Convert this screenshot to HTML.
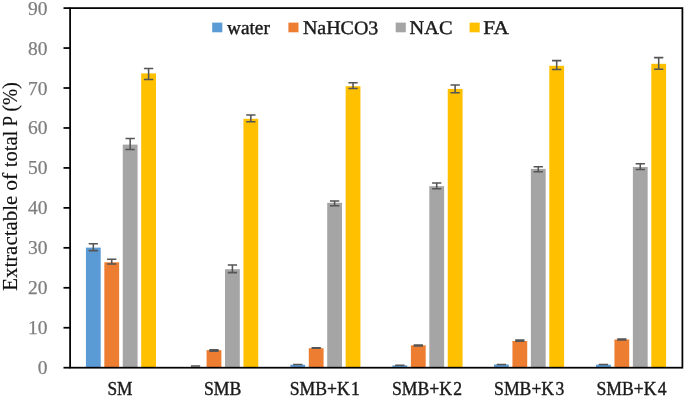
<!DOCTYPE html>
<html><head><meta charset="utf-8"><title>chart</title>
<style>
html,body{margin:0;padding:0;background:#fff;}
body{width:685px;height:397px;overflow:hidden;font-family:"Liberation Serif",serif;}
svg{display:block;}
text{font-family:"Liberation Serif",serif;}
#txt{will-change:transform;opacity:0.999;}
.d{stroke:#1a1a1a;stroke-width:0.4;}
.t{stroke:#7f7f7f;stroke-width:0.25;}
.y{stroke:#111;stroke-width:0.15;}
</style></head><body>
<svg width="685" height="397" viewBox="0 0 685 397">
<rect x="0" y="0" width="685" height="397" fill="#ffffff"/>
<g id="bars">
<rect x="85.91" y="247.60" width="14.8" height="120.10" fill="#5B9BD5"/>
<rect x="104.33" y="262.30" width="14.8" height="105.40" fill="#ED7D31"/>
<rect x="122.76" y="144.60" width="14.8" height="223.10" fill="#A5A5A5"/>
<rect x="141.19" y="73.40" width="14.8" height="294.30" fill="#FFC000"/>
<rect x="206.58" y="350.10" width="14.8" height="17.60" fill="#ED7D31"/>
<rect x="225.01" y="269.20" width="14.8" height="98.50" fill="#A5A5A5"/>
<rect x="243.44" y="118.80" width="14.8" height="248.90" fill="#FFC000"/>
<rect x="290.36" y="364.70" width="14.8" height="3.00" fill="#5B9BD5"/>
<rect x="308.79" y="348.20" width="14.8" height="19.50" fill="#ED7D31"/>
<rect x="327.21" y="202.80" width="14.8" height="164.90" fill="#A5A5A5"/>
<rect x="345.64" y="86.20" width="14.8" height="281.50" fill="#FFC000"/>
<rect x="392.46" y="365.40" width="14.8" height="2.30" fill="#5B9BD5"/>
<rect x="410.89" y="345.30" width="14.8" height="22.40" fill="#ED7D31"/>
<rect x="429.31" y="186.20" width="14.8" height="181.50" fill="#A5A5A5"/>
<rect x="447.75" y="88.90" width="14.8" height="278.80" fill="#FFC000"/>
<rect x="494.00" y="364.50" width="14.8" height="3.20" fill="#5B9BD5"/>
<rect x="512.43" y="341.00" width="14.8" height="26.70" fill="#ED7D31"/>
<rect x="530.87" y="168.90" width="14.8" height="198.80" fill="#A5A5A5"/>
<rect x="549.29" y="65.80" width="14.8" height="301.90" fill="#FFC000"/>
<rect x="596.00" y="364.70" width="14.8" height="3.00" fill="#5B9BD5"/>
<rect x="614.43" y="339.50" width="14.8" height="28.20" fill="#ED7D31"/>
<rect x="632.87" y="167.00" width="14.8" height="200.70" fill="#A5A5A5"/>
<rect x="651.29" y="63.80" width="14.8" height="303.90" fill="#FFC000"/>
</g>
<g id="err" stroke="#555555" stroke-width="1.55" fill="none">
<path d="M93.31 243.80V250.60M88.66 243.80H97.96M88.66 250.60H97.96"/>
<path d="M111.73 259.30V263.90M107.08 259.30H116.39M107.08 263.90H116.39"/>
<path d="M130.16 138.50V149.40M125.51 138.50H134.81M125.51 149.40H134.81"/>
<path d="M148.59 68.50V79.40M143.94 68.50H153.25M143.94 79.40H153.25"/>
<path d="M195.55 365.90V365.90M190.90 365.90H200.20M190.90 365.90H200.20"/>
<path d="M213.98 349.75V351.25M209.33 349.75H218.63M209.33 351.25H218.63"/>
<path d="M232.41 265.00V272.60M227.76 265.00H237.06M227.76 272.60H237.06"/>
<path d="M250.84 115.00V121.80M246.19 115.00H255.50M246.19 121.80H255.50"/>
<path d="M297.75 364.50V364.50M293.11 364.50H302.40M293.11 364.50H302.40"/>
<path d="M316.19 347.80V348.30M311.54 347.80H320.83M311.54 348.30H320.83"/>
<path d="M334.61 201.00V205.80M329.96 201.00H339.26M329.96 205.80H339.26"/>
<path d="M353.04 82.80V88.50M348.39 82.80H357.69M348.39 88.50H357.69"/>
<path d="M399.86 365.20V365.20M395.21 365.20H404.50M395.21 365.20H404.50"/>
<path d="M418.29 344.90V346.00M413.64 344.90H422.94M413.64 346.00H422.94"/>
<path d="M436.71 183.00V188.70M432.06 183.00H441.36M432.06 188.70H441.36"/>
<path d="M455.14 85.00V92.70M450.50 85.00H459.79M450.50 92.70H459.79"/>
<path d="M501.40 364.50V364.50M496.75 364.50H506.05M496.75 364.50H506.05"/>
<path d="M519.83 340.00V341.10M515.18 340.00H524.48M515.18 341.10H524.48"/>
<path d="M538.26 166.80V171.70M533.62 166.80H542.91M533.62 171.70H542.91"/>
<path d="M556.69 60.60V69.50M552.04 60.60H561.34M552.04 69.50H561.34"/>
<path d="M603.40 364.50V364.50M598.75 364.50H608.05M598.75 364.50H608.05"/>
<path d="M621.83 339.00V340.00M617.18 339.00H626.48M617.18 340.00H626.48"/>
<path d="M640.26 163.80V169.50M635.62 163.80H644.91M635.62 169.50H644.91"/>
<path d="M658.69 57.60V69.30M654.04 57.60H663.34M654.04 69.30H663.34"/>
</g>
<g id="axes" stroke="#000" stroke-width="1.75" fill="none">
<rect x="70.1" y="8.1" width="612.30" height="359.60"/>
<line x1="63.50" y1="367.70" x2="70.1" y2="367.70"/>
<line x1="63.50" y1="327.74" x2="70.1" y2="327.74"/>
<line x1="63.50" y1="287.79" x2="70.1" y2="287.79"/>
<line x1="63.50" y1="247.83" x2="70.1" y2="247.83"/>
<line x1="63.50" y1="207.88" x2="70.1" y2="207.88"/>
<line x1="63.50" y1="167.92" x2="70.1" y2="167.92"/>
<line x1="63.50" y1="127.97" x2="70.1" y2="127.97"/>
<line x1="63.50" y1="88.01" x2="70.1" y2="88.01"/>
<line x1="63.50" y1="48.06" x2="70.1" y2="48.06"/>
<line x1="63.50" y1="8.10" x2="70.1" y2="8.10"/>
</g>
<rect x="212.2" y="22.6" width="10.1" height="9.7" fill="#5B9BD5"/>
<rect x="288.4" y="22.6" width="10.1" height="9.7" fill="#ED7D31"/>
<rect x="395.7" y="22.6" width="10.1" height="9.7" fill="#A5A5A5"/>
<rect x="469.6" y="22.6" width="10.1" height="9.7" fill="#FFC000"/>
<g id="txt">
<text x="47.4" y="374.20" class="t" font-size="19.5" fill="#7f7f7f" text-anchor="end">0</text>
<text x="47.4" y="334.24" class="t" font-size="19.5" fill="#7f7f7f" text-anchor="end">10</text>
<text x="47.4" y="294.29" class="t" font-size="19.5" fill="#7f7f7f" text-anchor="end">20</text>
<text x="47.4" y="254.33" class="t" font-size="19.5" fill="#7f7f7f" text-anchor="end">30</text>
<text x="47.4" y="214.38" class="t" font-size="19.5" fill="#7f7f7f" text-anchor="end">40</text>
<text x="47.4" y="174.42" class="t" font-size="19.5" fill="#7f7f7f" text-anchor="end">50</text>
<text x="47.4" y="134.47" class="t" font-size="19.5" fill="#7f7f7f" text-anchor="end">60</text>
<text x="47.4" y="94.51" class="t" font-size="19.5" fill="#7f7f7f" text-anchor="end">70</text>
<text x="47.4" y="54.56" class="t" font-size="19.5" fill="#7f7f7f" text-anchor="end">80</text>
<text x="47.4" y="14.60" class="t" font-size="19.5" fill="#7f7f7f" text-anchor="end">90</text>
<text class="d" transform="translate(107.4 394.9) rotate(0.02)" font-size="17.9" fill="#1a1a1a" textLength="25.0" lengthAdjust="spacingAndGlyphs">SM</text>
<text class="d" transform="translate(204.0 394.9) rotate(0.02)" font-size="17.9" fill="#1a1a1a" textLength="37.4" lengthAdjust="spacingAndGlyphs">SMB</text>
<text class="d" transform="translate(289.8 394.9) rotate(0.02)" font-size="17.9" fill="#1a1a1a" textLength="60.0" lengthAdjust="spacingAndGlyphs">SMB+K</text>
<text class="d" transform="translate(351.1 394.9) rotate(0.02)" font-size="17.9" fill="#1a1a1a" textLength="8.8" lengthAdjust="spacingAndGlyphs">1</text>
<text class="d" transform="translate(392.0 394.9) rotate(0.02)" font-size="17.9" fill="#1a1a1a" textLength="60.0" lengthAdjust="spacingAndGlyphs">SMB+K</text>
<text class="d" transform="translate(453.3 394.9) rotate(0.02)" font-size="17.9" fill="#1a1a1a" textLength="8.8" lengthAdjust="spacingAndGlyphs">2</text>
<text class="d" transform="translate(494.1 394.9) rotate(0.02)" font-size="17.9" fill="#1a1a1a" textLength="60.0" lengthAdjust="spacingAndGlyphs">SMB+K</text>
<text class="d" transform="translate(555.4 394.9) rotate(0.02)" font-size="17.9" fill="#1a1a1a" textLength="8.8" lengthAdjust="spacingAndGlyphs">3</text>
<text class="d" transform="translate(596.5 394.9) rotate(0.02)" font-size="17.9" fill="#1a1a1a" textLength="60.0" lengthAdjust="spacingAndGlyphs">SMB+K</text>
<text class="d" transform="translate(657.8 394.9) rotate(0.02)" font-size="17.9" fill="#1a1a1a" textLength="8.8" lengthAdjust="spacingAndGlyphs">4</text>
<text class="y" transform="translate(17.0 290.8) rotate(-90)" font-size="20.6" fill="#111" textLength="95.0" lengthAdjust="spacingAndGlyphs">Extractable</text>
<text class="y" transform="translate(17.0 190.7) rotate(-90)" font-size="20.6" fill="#111" textLength="17.9" lengthAdjust="spacingAndGlyphs">of</text>
<text class="y" transform="translate(17.0 167.3) rotate(-90)" font-size="20.6" fill="#111" textLength="36.5" lengthAdjust="spacingAndGlyphs">total</text>
<text class="y" transform="translate(17.0 126.2) rotate(-90)" font-size="20.6" fill="#111" textLength="10.3" lengthAdjust="spacingAndGlyphs">P</text>
<text class="y" transform="translate(17.0 111.4) rotate(-90)" font-size="20.6" fill="#111" textLength="29.2" lengthAdjust="spacingAndGlyphs">(%)</text>
<text class="d" transform="translate(227.0 34.1) rotate(0.03)" font-size="19.4" fill="#1a1a1a" textLength="42.8" lengthAdjust="spacingAndGlyphs">water</text>
<text class="d" transform="translate(302.9 34.1) rotate(0.03)" font-size="19.4" fill="#1a1a1a" textLength="75.4" lengthAdjust="spacingAndGlyphs">NaHCO3</text>
<text class="d" transform="translate(409.6 34.1) rotate(0.03)" font-size="19.4" fill="#1a1a1a" textLength="42.9" lengthAdjust="spacingAndGlyphs">NAC</text>
<text class="d" transform="translate(483.3 34.1) rotate(0.03)" font-size="19.4" fill="#1a1a1a" textLength="25.6" lengthAdjust="spacingAndGlyphs">FA</text>
</g>
</svg>
</body></html>
